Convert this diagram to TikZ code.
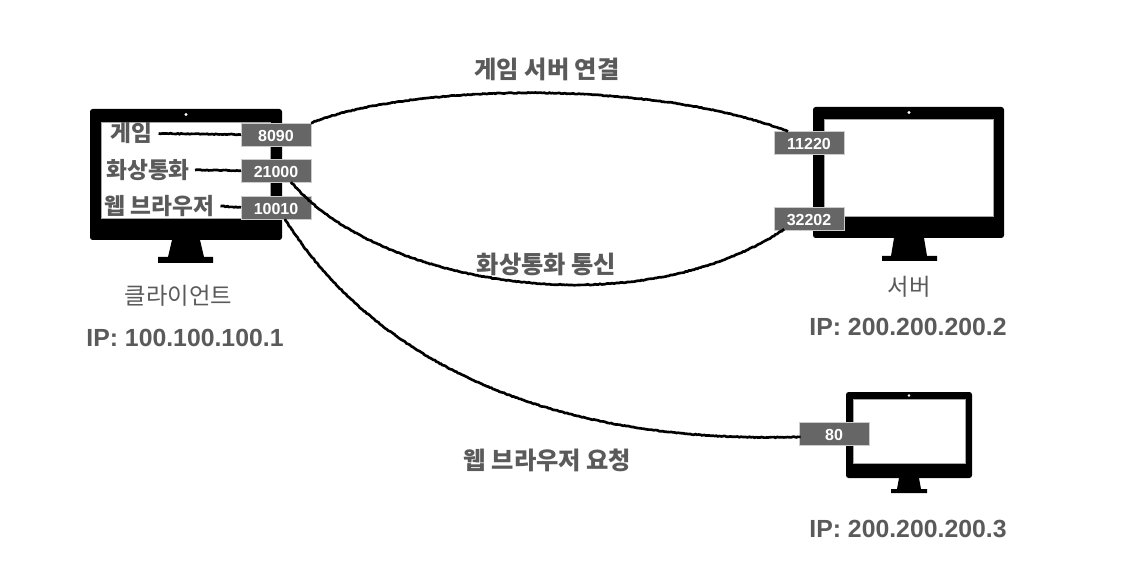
\documentclass[tikz,border=0pt]{standalone}
\usepackage{fontspec}
\setmainfont{Liberation Sans}
\newfontfamily\krfont{Noto Sans CJK KR}
\usetikzlibrary{decorations.pathmorphing,positioning}
\definecolor{portgray}{HTML}{666666}
\definecolor{ink}{HTML}{5A5A5A}
\tikzset{
  monbody/.style={fill=black,rounded corners=2pt,inner sep=0pt,outer sep=0pt},
  monscreen/.style={fill=white,draw=black!35,line width=0.3pt,inner sep=0pt,outer sep=0pt},
  mondot/.style={circle,fill=white,inner sep=0pt,minimum size=2.6pt},
  portbox/.style={fill=portgray,draw=black!20,line width=0.3pt,minimum width=52.5pt,minimum height=17.25pt,
                  inner sep=0pt,outer sep=0pt,text=white,text height=10.4pt,text depth=0pt,
                  font=\bfseries\fontsize{12}{14}\selectfont},
  applabel/.style={text=ink,inner sep=0pt,font=\krfont\bfseries\fontsize{17}{20}\selectfont},
  linklabel/.style={text=ink,inner sep=0pt,font=\krfont\bfseries\fontsize{18.2}{22}\selectfont},
  hostlabel/.style={text=ink,inner sep=0pt,font=\krfont\fontsize{17.5}{21}\selectfont},
  iplabel/.style={text=ink,inner sep=0pt,font=\bfseries\fontsize{18.6}{22}\selectfont},
  wire/.style={draw=black,line width=2pt,decorate,decoration={random steps,segment length=1.3pt,amplitude=0.3pt}}
}
\begin{document}
\begin{tikzpicture}[x=0.75pt,y=-0.75pt]
  \useasboundingbox (0,0) rectangle (1122,574);

  % client
  \node[monbody,minimum width=144pt,minimum height=98.25pt] (client) at (186,174.5) {};
  \node[monscreen,minimum width=126.75pt,minimum height=72pt] (clientscreen) at (185.5,170) {};
  \node[mondot] (clientdot) at (186,114.5) {};
  \fill (172,240) -- (200,240) -- (204,257) -- (213,257) -- (213,263) -- (158,263) -- (158,257) -- (168,257) -- cycle;

  % server
  \node[monbody,minimum width=143.25pt,minimum height=98.25pt] (server) at (908.5,172.5) {};
  \node[monscreen,minimum width=126.75pt,minimum height=72.75pt] (serverscreen) at (908.5,167.5) {};
  \node[mondot] (serverdot) at (909,112.5) {};
  \fill (894,238) -- (924,238) -- (927,256) -- (937,256) -- (937,261) -- (882,261) -- (882,256) -- (891,256) -- cycle;

  % web server
  \node[monbody,minimum width=94.5pt,minimum height=64.5pt] (web) at (909,435) {};
  \node[monscreen,minimum width=84pt,minimum height=48pt] (webscreen) at (909,431) {};
  \node[mondot,minimum size=2pt] (webdot) at (909,395.5) {};
  \fill (899,478) -- (919,478) -- (921,489) -- (927,489) -- (927,493) -- (891,493) -- (891,489) -- (897,489) -- cycle;

  \node[portbox] (pgame) at (276,134.5) {8090};
  \node[portbox] (pvideo) at (276,170.5) {21000};
  \node[portbox] (pbrowser) at (276,207.5) {10010};
  \node[portbox] (sgame) at (809,142.5) {11220};
  \node[portbox] (svideo) at (809,218.5) {32202};
  \node[portbox] (shttp) at (834,433.5) {80};

  \node[applabel] (game) at (131.5,133.5) {게임};
  \node[applabel] (video) at (148,170) {화상통화};
  \node[applabel] (browser) at (159.5,206) {웹 브라우저};

  \draw[wire] (game.east)++(6,0) -- (pgame.west);
  \draw[wire] (video.east)++(5,0) -- (pvideo.west);
  \draw[wire] (browser.east)++(6,0) -- (pbrowser.west);

  \draw[wire] (pgame.north east) .. controls +(97,-39) and +(-137,-52) .. ([xshift=-16.5pt]sgame.north);
  \draw[wire] ([xshift=11.25pt]pvideo.south) .. controls +(89,105) and +(-145,96) .. ([xshift=-19.5pt]svideo.south);
  \draw[wire] ([xshift=6.75pt]pbrowser.south) .. controls +(75,121) and +(-280,8) .. ([yshift=-2.6pt]shttp.west);

  \node[linklabel] (gamelink) at (547,69) {게임 서버 연결};
  \node[linklabel] (videolink) at (546.5,264) {화상통화 통신};
  \node[linklabel] (browserlink) at (547.5,460) {웹 브라우저 요청};

  \node[hostlabel] (clientname) at (178.5,296) {클라이언트};
  \node[iplabel] (clientip) at (185,338) {IP: 100.100.100.1};
  \node[hostlabel] (servername) at (909,287) {서버};
  \node[iplabel] (serverip) at (908,327) {IP: 200.200.200.2};
  \node[iplabel] (webip) at (908,529) {IP: 200.200.200.3};
\end{tikzpicture}
\end{document}
